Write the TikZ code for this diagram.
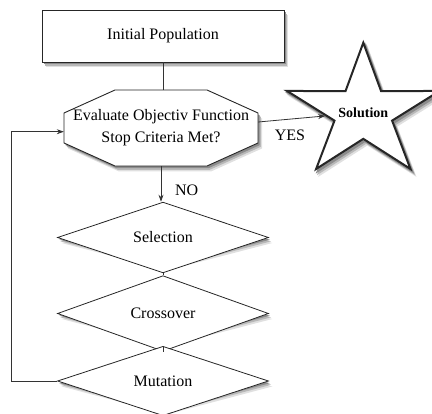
\documentclass[tikz,border=0pt]{standalone}
\usepackage{fontspec}
\setmainfont{Liberation Serif}
\usetikzlibrary{shapes.geometric,arrows.meta,calc}
\begin{document}
\begin{tikzpicture}[x=1pt,y=-1pt,
  shA/.style={draw=none,fill=black!12},
  shB/.style={draw=none,fill=black!28},
  shC/.style={draw=none,fill=black!45},
  box/.style={draw=black!85,line width=0.9pt,fill=white},
  lab/.style={font=\fontsize{16}{22}\selectfont},
  rectbox/.style={box,minimum width=242pt,minimum height=52pt,inner sep=0pt,lab},
  dia/.style={diamond,box,line width=0.8pt,minimum width=211pt,minimum height=55pt,inner sep=0pt,lab},
  starbox/.style={star,star points=5,star point ratio=2.65,minimum size=139.6pt,inner sep=0pt,transform shape},
  con/.style={draw=black!80,line width=0.8pt},
  arr/.style={con,-{Stealth[length=7pt,width=5pt]}}
]
\useasboundingbox (0,0) rectangle (432,414);
\def\octpath{(115,90) -- (207,90) -- (258,113) -- (258,143) -- (207,166) -- (115,166) -- (64,143) -- (64,113) -- cycle}
% ---------- shadows ----------
\begin{scope}[shift={(4,5.5)}]
  \node[rectbox,shA] (initshA) at (163,36) {};
  \path[shA] \octpath;
  \node[dia,shA] (selshA) at (163,237.5) {};
  \node[dia,shA] (crossshA) at (163,313.5) {};
  \node[dia,shA,minimum height=56pt] (mutshA) at (163,381) {};
\end{scope}
\begin{scope}[shift={(2.8,3.8)}]
  \node[rectbox,shB] (initshB) at (163,36) {};
  \path[shB] \octpath;
  \node[dia,shB] (selshB) at (163,237.5) {};
  \node[dia,shB] (crossshB) at (163,313.5) {};
  \node[dia,shB,minimum height=56pt] (mutshB) at (163,381) {};
\end{scope}
\begin{scope}[shift={(1.6,2.2)}]
  \node[rectbox,shC] (initshC) at (163,36) {};
  \path[shC] \octpath;
  \node[dia,shC] (selshC) at (163,237.5) {};
  \node[dia,shC] (crossshC) at (163,313.5) {};
  \node[dia,shC,minimum height=56pt] (mutshC) at (163,381) {};
\end{scope}
\begin{scope}[shift={(367.3,118)},xscale=1.15]
  \node[starbox,draw=black!12,line width=2pt,fill=black!12] (starshA) at (0,0) {};
\end{scope}
\begin{scope}[shift={(366.1,116.3)},xscale=1.15]
  \node[starbox,draw=black!28,line width=2pt,fill=black!28] (starshB) at (0,0) {};
\end{scope}
\begin{scope}[shift={(364.9,114.7)},xscale=1.15]
  \node[starbox,draw=black!45,line width=2pt,fill=black!45] (starshC) at (0,0) {};
\end{scope}
% ---------- shapes ----------
\node[rectbox] (init) at (163,36) {Initial Population};
\filldraw[box] \octpath;
\node[minimum width=194pt,minimum height=76pt,inner sep=0pt,lab,align=center] (oct) at (161,128) {Evaluate Objectiv Function\\Stop Criteria Met?};
\begin{scope}[shift={(363.3,112.5)},xscale=1.15]
  \node[starbox,draw=black!85,line width=2pt,fill=white] (star) at (0,0) {};
\end{scope}
\node[font=\bfseries\fontsize{14}{16}\selectfont] (soltext) at (star) {Solution};
\node[dia] (sel) at (163,237.5) {Selection};
\node[dia] (cross) at (163,313.5) {Crossover};
\node[dia,minimum height=56pt] (mut) at (163,381) {Mutation};
% ---------- connectors ----------
\draw[con] (init.south) -- (init.south |- oct.north);
\draw[arr] ([yshift=6pt]oct.east) -- (star);
\node[lab] (yes) at (290,135) {YES};
\draw[arr] (oct.south) -- (oct.south |- sel.north);
\node[lab] (no) at (186.7,190) {NO};
\draw[con] (sel.south) -- (cross.north);
\draw[con] (cross.south) -- (mut.north);
\draw[arr] (mut.west) -- ++(-45.8,0) |- ([yshift=-3.7pt]oct.west);
\end{tikzpicture}
\end{document}
